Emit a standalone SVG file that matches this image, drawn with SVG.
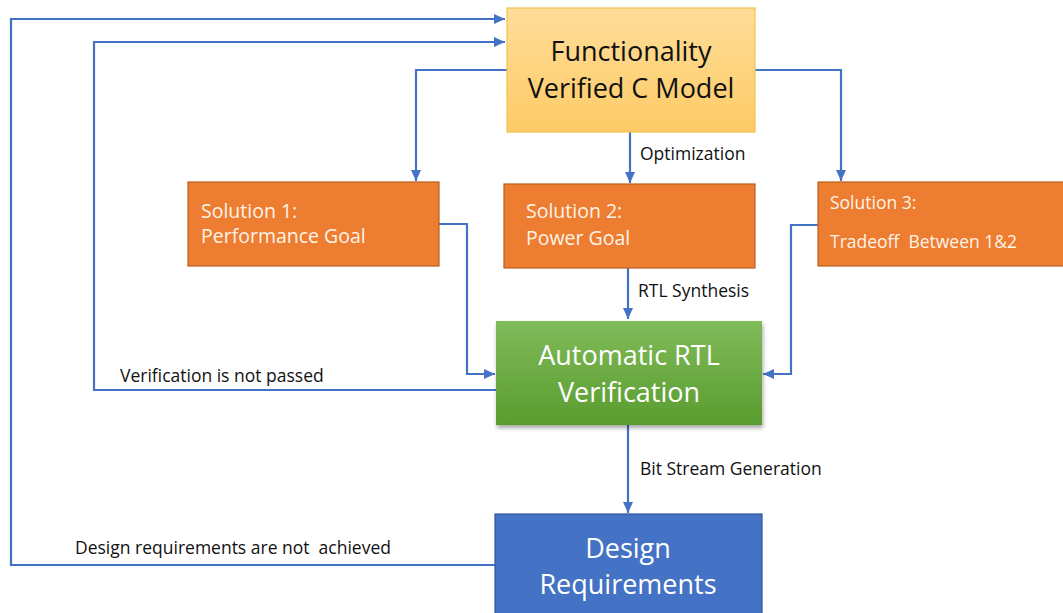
<svg xmlns="http://www.w3.org/2000/svg" width="1063" height="613" viewBox="0 0 1063 613">
<defs>
<linearGradient id="gY" x1="0" y1="0" x2="0" y2="1"><stop offset="0" stop-color="#FFDD99"/><stop offset="1" stop-color="#FDCB66"/></linearGradient>
<linearGradient id="gG" x1="0" y1="0" x2="0" y2="1"><stop offset="0" stop-color="#80BB5A"/><stop offset="1" stop-color="#5A9C2F"/></linearGradient>
<filter id="sh" x="-10%" y="-10%" width="120%" height="130%"><feDropShadow dx="1" dy="3" stdDeviation="2" flood-color="#000" flood-opacity="0.35"/></filter>
<marker id="ah" markerUnits="userSpaceOnUse" markerWidth="12" markerHeight="10" refX="11" refY="5" orient="auto"><path d="M0,0 L11,5 L0,10 Z" fill="#4472C4"/></marker>
<style>
.c{fill:none;stroke:#4472C4;stroke-width:2.2}
.lbl{font-family:"Open Sans","Noto Sans",sans-serif;font-size:17.5px;fill:#111}
.big{font-family:"Open Sans","Noto Sans",sans-serif;font-size:27px;text-anchor:middle}
.sol{font-family:"Open Sans","Noto Sans",sans-serif;font-size:19.5px;fill:#FFF3E8}
.or{fill:#ED7D31;stroke:#B85F22;stroke-width:1.2}
</style>
</defs>
<g id="connectors">
<path class="c" d="M507,70 H416 V181" marker-end="url(#ah)"/>
<path class="c" d="M755,70 H841 V181" marker-end="url(#ah)"/>
<path class="c" d="M630,132 V183" marker-end="url(#ah)"/>
<path class="c" d="M628,268 V319" marker-end="url(#ah)"/>
<path class="c" d="M439,224 H467 V374 H495" marker-end="url(#ah)"/>
<path class="c" d="M818,225 H791 V374 H763" marker-end="url(#ah)"/>
<path class="c" d="M628,425 V513" marker-end="url(#ah)"/>
<path class="c" d="M496,390 H94 V42 H505" marker-end="url(#ah)"/>
<path class="c" d="M495,565 H11 V19 H505" marker-end="url(#ah)"/>
<text class="lbl" x="640" y="160">Optimization</text>
<text class="lbl" x="638" y="297">RTL Synthesis</text>
<text class="lbl" x="640" y="475">Bit Stream Generation</text>
<text class="lbl" x="120" y="382">Verification is not passed</text>
<text class="lbl" x="75" y="554" xml:space="preserve">Design requirements are not  achieved</text>
</g>
<g id="cmodel">
<rect x="507" y="8" width="248" height="124" fill="url(#gY)" stroke="#F2C14E" stroke-width="1.2"/>
<text class="big" x="631" y="61" fill="#111">Functionality</text>
<text class="big" x="631" y="98" fill="#111">Verified C Model</text>
</g>
<g id="sol1">
<rect class="or" x="188" y="182" width="251" height="84"/>
<text class="sol" x="201" y="218">Solution 1:</text>
<text class="sol" x="201" y="243">Performance Goal</text>
</g>
<g id="sol2">
<rect class="or" x="504" y="184" width="251" height="84"/>
<text class="sol" x="526" y="218">Solution 2:</text>
<text class="sol" x="526" y="245">Power Goal</text>
</g>
<g id="sol3">
<rect class="or" x="818" y="182" width="246" height="84"/>
<text class="sol" x="830" y="209" style="font-size:17.5px">Solution 3:</text>
<text class="sol" x="830" y="248" style="font-size:17.5px" xml:space="preserve">Tradeoff  Between 1&amp;2</text>
</g>
<g id="rtlver">
<rect x="496" y="321" width="266" height="104" fill="url(#gG)" filter="url(#sh)"/>
<text class="big" x="629" y="365" fill="#fff">Automatic RTL</text>
<text class="big" x="629" y="402" fill="#fff">Verification</text>
</g>
<g id="designreq">
<rect x="495" y="514" width="267" height="104" fill="#4472C4" stroke="#2F5597" stroke-width="1.2"/>
<text class="big" x="628" y="558" fill="#fff">Design</text>
<text class="big" x="628" y="594" fill="#fff">Requirements</text>
</g>
</svg>
